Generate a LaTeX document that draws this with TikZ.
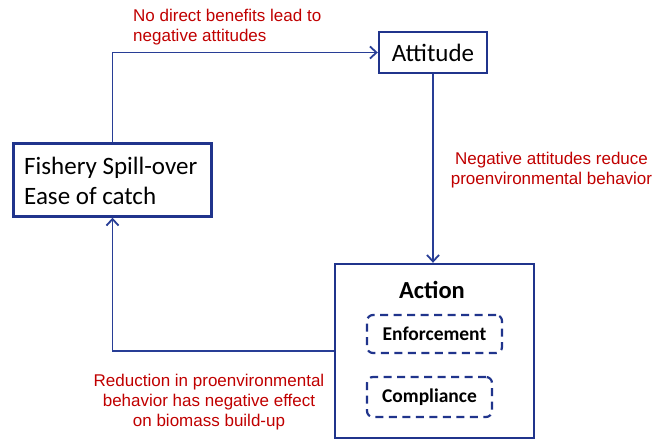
\documentclass[tikz,border=0pt]{standalone}
\usepackage{fontspec}
\setmainfont{Carlito}
\newfontfamily\arifont{Liberation Sans}
\usetikzlibrary{arrows.meta}
\definecolor{boxblue}{RGB}{32,52,140}
\definecolor{linkblue}{RGB}{40,62,150}
\definecolor{lblred}{RGB}{192,0,0}
\tikzset{
  mainbox/.style={draw=boxblue, line width=2.4pt, rectangle, inner sep=0pt, fill=white},
  dashbox/.style={draw=boxblue, line width=2.2pt, rectangle, rounded corners=6pt, dash pattern=on 8pt off 5.5pt, inner sep=0pt},
  link/.style={draw=linkblue, line width=1.2pt, -{Straight Barb[length=6.5pt,width=12pt,line width=1.8pt]}},
  lbl/.style={text=lblred, font=\arifont\fontsize{17}{20}\selectfont, inner sep=0pt}
}
\begin{document}
\begin{tikzpicture}[x=1pt,y=-1pt]
\useasboundingbox (0,0) rectangle (661,444);
\node[mainbox, minimum width=108pt, minimum height=41pt, font=\fontsize{25}{28}\selectfont] (attitude) at (433,52.5) {Attitude};
\node[mainbox, minimum width=198pt, minimum height=73pt] (fishery) at (112.5,180) {};
\node[anchor=west, align=left, inner sep=0pt, font=\fontsize{25}{30}\selectfont] (fishtext) at (24,181) {Fishery Spill-over\\Ease of catch};
\node[mainbox, minimum width=199pt, minimum height=174pt] (action) at (434.5,351) {};
\node[font=\bfseries\fontsize{24.5}{28}\selectfont, inner sep=0pt] (actiontext) at (432,290) {Action};
\node[dashbox, minimum width=135pt, minimum height=38pt, font=\bfseries\fontsize{19.5}{22}\selectfont] (enf) at (434.5,334) {Enforcement};
\node[dashbox, minimum width=125pt, minimum height=40pt, font=\bfseries\fontsize{19.5}{22}\selectfont] (comp) at (429.5,397) {Compliance};
\draw[link] (fishery.north) |- (attitude.west);
\draw[link] (attitude.south) -- (attitude.south |- action.north);
\draw[link] (action.west) -| (fishery.south);
\node[lbl, anchor=west, align=left] (l1) at (133,27.5) {No direct benefits lead to\\negative attitudes};
\node[lbl, align=center] (l2) at (551.5,170.5) {Negative attitudes reduce\\proenvironmental behavior};
\node[lbl, align=center] (l3) at (209,402.5) {Reduction in proenvironmental\\behavior has negative effect\\on biomass build-up};
\end{tikzpicture}
\end{document}
